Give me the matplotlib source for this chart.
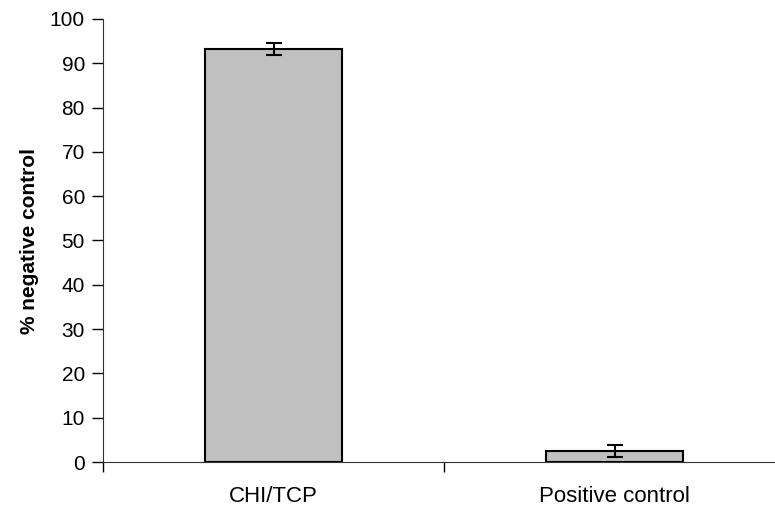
import matplotlib.pyplot as plt
import numpy as np

# data
categories = ['CHI/TCP', 'Positive control']
values = [93.2, 2.4]
errors = [1.35, 1.35]
yticks = list(range(0, 101, 10))

plt.rcParams['font.family'] = ['Liberation Sans', 'DejaVu Sans']

fig = plt.figure(figsize=(7.75, 5.08), dpi=100)
ax = fig.add_axes([103 / 775, 46 / 508, 682 / 775, 443 / 508])

x = np.arange(len(categories))
ax.bar(x, values, width=0.4, color='#c0c0c0', edgecolor='black', linewidth=1.5,
       yerr=errors, error_kw=dict(ecolor='black', elinewidth=1.5, capsize=6, capthick=1.5))

ax.set_xlim(-0.5, 1.5)
ax.set_ylim(0, 100)
ax.set_yticks(yticks)
ax.set_yticklabels([str(t) for t in yticks], fontsize=15)

# category labels centred, ticks at the category boundaries
ax.set_xticks([-0.5, 0.5, 1.5])
ax.set_xticklabels(['', '', ''])
ax.set_xticks(x, minor=True)
ax.set_xticklabels(categories, minor=True, fontsize=16)
ax.tick_params(axis='x', which='minor', length=0, pad=17)
ax.tick_params(axis='x', which='major', length=7, width=1, direction='out')
ax.tick_params(axis='y', length=8, width=1, direction='out', pad=5)

ax.spines['top'].set_visible(False)
ax.spines['right'].set_visible(False)
ax.spines['left'].set_color('#333333')
ax.spines['bottom'].set_color('#333333')

ax.set_ylabel('% negative control', fontsize=15, fontweight='bold', labelpad=8)

fig.savefig('out.png', dpi=100)
